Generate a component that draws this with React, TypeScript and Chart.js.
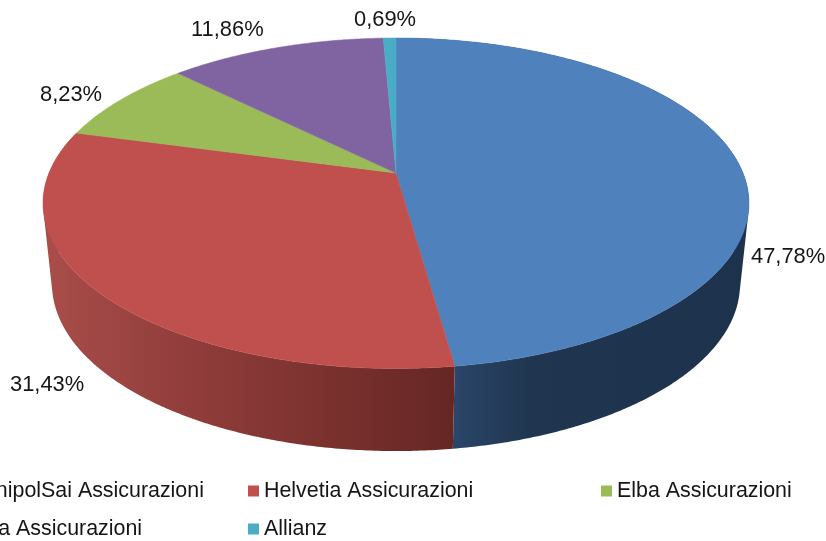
import React, { useEffect, useRef } from "react";
import { Chart, registerables } from "chart.js";

Chart.register(...registerables);

const categories = [
  "UnipolSai Assicurazioni",
  "Helvetia Assicurazioni",
  "Elba Assicurazioni",
  "Ina Assicurazioni",
  "Allianz",
];
const shares = [47.78, 31.43, 8.23, 11.86, 0.69];
const sliceColors = ["#4f81bd", "#c0504d", "#9bbb59", "#8064a2", "#4bacc6"];

const sideStops: Record<number, [number, string][]> = {
  0: [
    [455, "#2a4568"],
    [530, "#203650"],
    [749, "#1d324d"],
  ],
  1: [
    [45, "#a84d4a"],
    [200, "#8f3c3a"],
    [320, "#7c322f"],
    [453, "#652624"],
  ],
};

// Perspective views of the pie's top and bottom discs.
const cx = 396;
const topDisc = { X: 347, b: 173, a: 128.05, c: -0.183 };
const bottomDisc = { X: 338.7, b: 254.8, a: 117.3, c: -0.175 };

function project(d: typeof topDisc, theta: number): [number, number] {
  const u = Math.sin(theta);
  const v = -Math.cos(theta);
  const w = 1 + d.c * v;
  return [cx + (d.X * u) / w, (d.b + d.a * v) / w];
}

const labelAnchors: [number, number][] = [
  [751, 257],
  [10, 385],
  [40, 95],
  [191, 30],
  [354, 20],
];
const legendSlots: { x: number; y: number }[] = [
  { x: -19.6, y: 491 },
  { x: 264, y: 491 },
  { x: 617, y: 491 },
  { x: -19.6, y: 529 },
  { x: 264, y: 529 },
];

const pie3d = {
  id: "pie3d",
  beforeDatasetDraw(chart: any) {
    const ctx: CanvasRenderingContext2D = chart.ctx;
    const arcs = chart.getDatasetMeta(0).data;
    const STEP = Math.PI / 360;
    const angles = arcs.map((arc: any) => [
      arc.startAngle + Math.PI / 2,
      arc.endAngle + Math.PI / 2,
    ]);

    ctx.save();
    // side walls: one path of thin quads wound the same way, so the silhouette is their envelope
    angles.forEach(([s, e]: number[], i: number) => {
      const stops = sideStops[i];
      if (!stops) return;
      const x0 = stops[0][0];
      const x1 = stops[stops.length - 1][0];
      const g = ctx.createLinearGradient(x0, 0, x1, 0);
      stops.forEach(([x, col]) => g.addColorStop((x - x0) / (x1 - x0), col));
      ctx.fillStyle = g;
      ctx.beginPath();
      for (let t = s; t < e; t += STEP) {
        const n = Math.min(t + STEP, e);
        const q = [
          project(topDisc, t),
          project(topDisc, n),
          project(bottomDisc, n),
          project(bottomDisc, t),
        ];
        let area = 0;
        q.forEach((p, k) => {
          const r = q[(k + 1) % 4];
          area += p[0] * r[1] - r[0] * p[1];
        });
        if (area < 0) q.reverse();
        ctx.moveTo(...q[0]);
        ctx.lineTo(...q[1]);
        ctx.lineTo(...q[2]);
        ctx.lineTo(...q[3]);
        ctx.closePath();
      }
      ctx.fill();
    });
    // top faces
    const apex: [number, number] = [cx, topDisc.b];
    angles.forEach(([s, e]: number[], i: number) => {
      ctx.fillStyle = sliceColors[i];
      ctx.strokeStyle = sliceColors[i];
      ctx.lineWidth = 0.5;
      ctx.beginPath();
      ctx.moveTo(...apex);
      for (let t = s; t < e; t += STEP) {
        const [x, y] = project(topDisc, t);
        ctx.lineTo(x, y);
      }
      ctx.lineTo(...project(topDisc, e));
      ctx.closePath();
      ctx.fill();
      ctx.stroke();
    });
    ctx.restore();
    return false;
  },
  afterDraw(chart: any) {
    const ctx: CanvasRenderingContext2D = chart.ctx;
    ctx.save();
    ctx.fillStyle = "#151515";
    ctx.textBaseline = "middle";
    ctx.textAlign = "left";
    ctx.font = '21.9px "Liberation Sans", Arial, sans-serif';
    shares.forEach((v, i) => {
      const [x, y] = labelAnchors[i];
      ctx.fillText(v.toFixed(2).replace(".", ",") + "%", x, y);
    });
    ctx.font = '21.4px "Liberation Sans", Arial, sans-serif';
    categories.forEach((name, i) => {
      const slot = legendSlots[i];
      ctx.fillStyle = sliceColors[i];
      ctx.fillRect(slot.x - 16, slot.y - 5.5, 11, 11);
      ctx.fillStyle = "#151515";
      ctx.fillText(name, slot.x, slot.y);
    });
    ctx.restore();
  },
};

export default function App() {
  const ref = useRef<HTMLCanvasElement>(null);
  useEffect(() => {
    const chart = new Chart(ref.current as HTMLCanvasElement, {
      type: "pie",
      data: {
        labels: categories,
        datasets: [{ data: shares, backgroundColor: sliceColors, borderWidth: 0 }],
      },
      options: {
        responsive: false,
        animation: false,
        devicePixelRatio: 1,
        plugins: {
          legend: { display: false },
          tooltip: { enabled: false },
          title: { display: false },
        },
      },
      plugins: [pie3d],
    } as any);
    return () => chart.destroy();
  }, []);
  return (
    <div style={{ position: "fixed", left: 0, top: 0, width: 826, height: 541, background: "#fff", overflow: "hidden" }}>
      <canvas ref={ref} width={826} height={541} style={{ display: "block", width: 826, height: 541, filter: "blur(0.4px)" }} />
    </div>
  );
}
